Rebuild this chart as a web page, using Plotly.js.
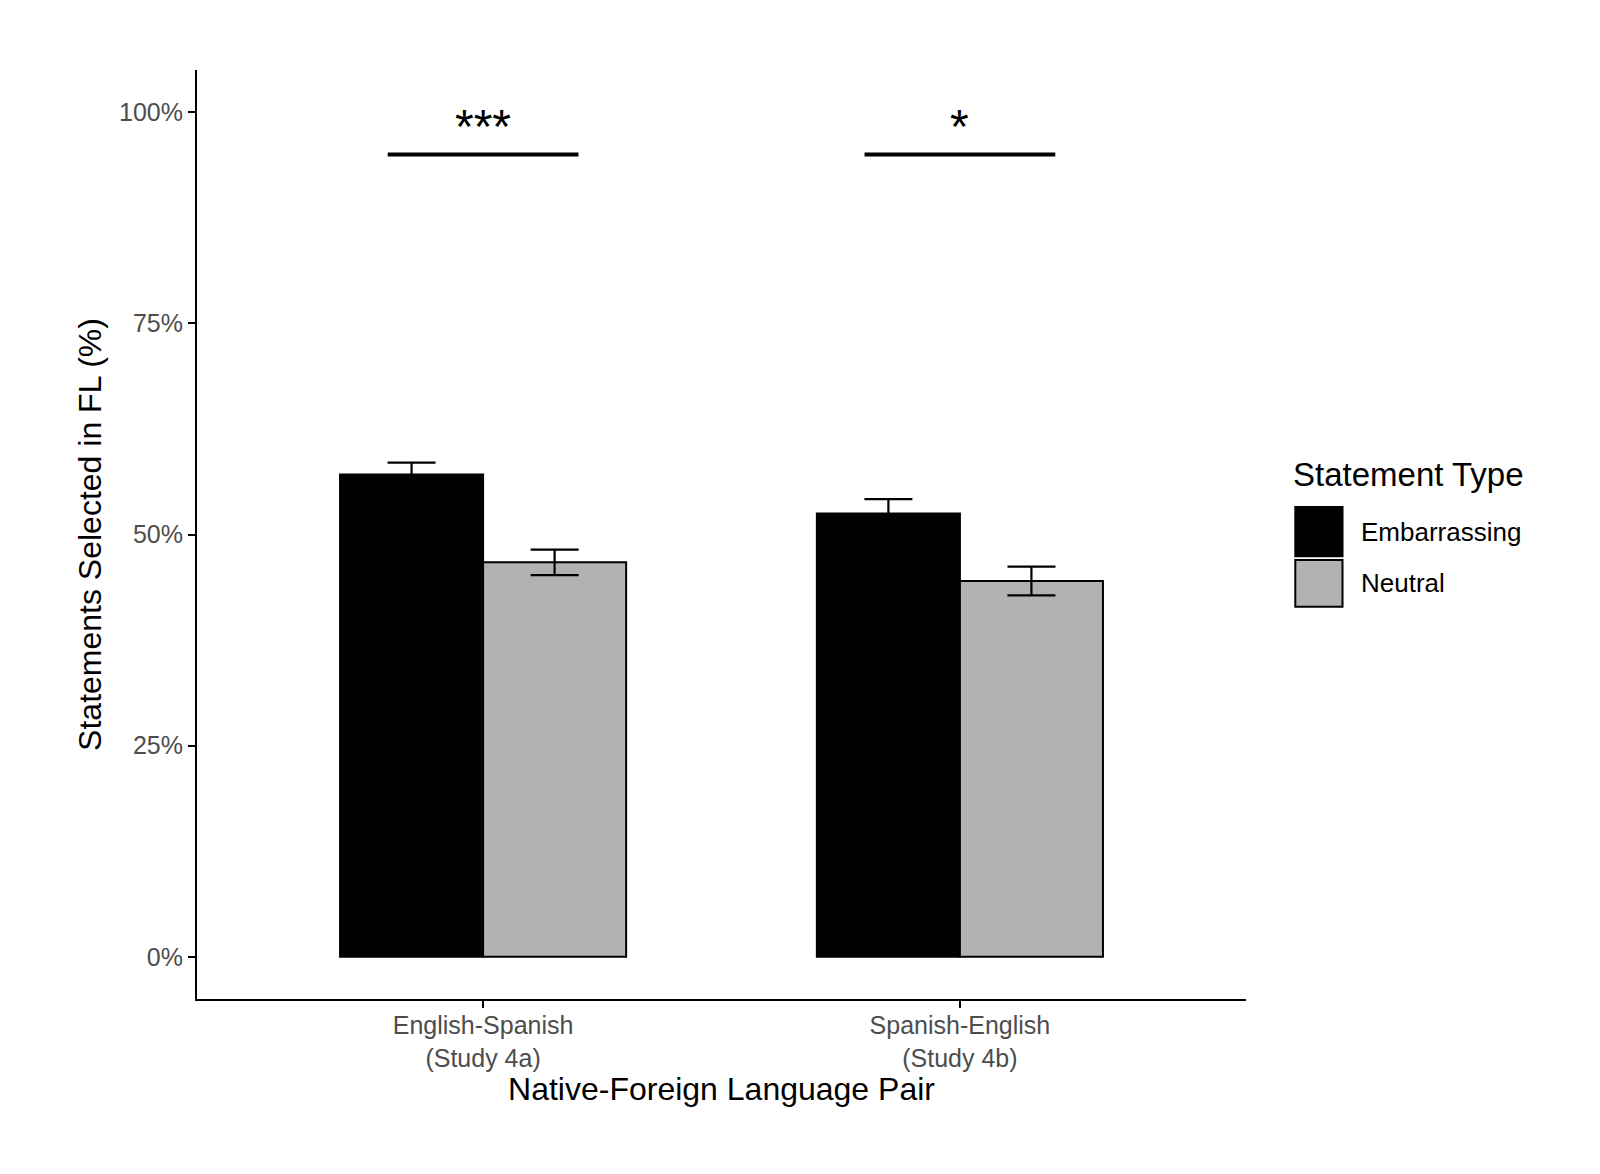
<!DOCTYPE html>
<html>
<head>
<meta charset="utf-8">
<script src="https://cdn.plot.ly/plotly-3.0.1.min.js"></script>
<style>
  body { margin: 0; background: #fff; }
  #graphDiv { width: 1600px; height: 1174px; }
</style>
</head>
<body>
<div id="graphDiv"></div>
<script>
// data
var pairs = ['English-Spanish', 'Spanish-English'];
var pairLabels = ['English-Spanish<br>(Study 4a)', 'Spanish-English<br>(Study 4b)'];
var embarrassing = [57.1, 52.5];
var embarrassingSE = [1.4, 1.7];
var neutral = [46.7, 44.5];
var neutralSE = [1.5, 1.7];
var sigStars = ['***', '*'];
var sigLevel = 95;
var yTicks = [0, 25, 50, 75, 100];
var yTickText = ['0%', '25%', '50%', '75%', '100%'];

function initGraph()
{
  var trace1 = {
    x: pairs,
    y: embarrassing,
    name: 'Embarrassing',
    type: 'bar',
    marker: {color: '#000000', line: {color: '#000000', width: 2}},
    error_y: {type: 'data', array: embarrassingSE, visible: true,
              color: '#000000', thickness: 2.2, width: 24}
  };

  var trace2 = {
    x: pairs,
    y: neutral,
    name: 'Neutral',
    type: 'bar',
    marker: {color: '#b2b2b2', line: {color: '#000000', width: 2}},
    error_y: {type: 'data', array: neutralSE, visible: true,
              color: '#000000', thickness: 2.2, width: 24}
  };

  var data = [trace1, trace2];

  // significance bars and stars over each pair
  var shapes = [];
  var annotations = [];
  for (var i = 0; i < pairs.length; i++) {
    shapes.push({
      type: 'line', xref: 'x', yref: 'y',
      x0: i - 0.2, x1: i + 0.2, y0: sigLevel, y1: sigLevel,
      line: {color: '#000000', width: 4}
    });
    annotations.push({
      xref: 'x', yref: 'y', x: i, y: sigLevel + 3.3,
      text: sigStars[i], showarrow: false,
      yanchor: 'middle',
      font: {family: 'Liberation Sans, Arial, sans-serif', size: 48, color: '#000000'}
    });
  }

  // legend drawn by hand so the keys get ggplot-sized squares
  var keyColors = ['#000000', '#b2b2b2'];
  var keyNames = ['Embarrassing', 'Neutral'];
  var keyTop = [0.5296, 0.4726];
  var keyBot = [0.4766, 0.4221];
  for (var k = 0; k < keyNames.length; k++) {
    shapes.push({
      type: 'rect', xref: 'paper', yref: 'paper',
      x0: 1.047, x1: 1.092, y0: keyBot[k], y1: keyTop[k],
      fillcolor: keyColors[k], line: {color: '#000000', width: 2}
    });
    annotations.push({
      xref: 'paper', yref: 'paper', x: 1.108, y: (keyTop[k] + keyBot[k]) / 2,
      xanchor: 'left', yanchor: 'middle', showarrow: false,
      text: keyNames[k],
      font: {family: 'Liberation Sans, Arial, sans-serif', size: 26, color: '#000000'}
    });
  }
  annotations.push({
    xref: 'paper', yref: 'paper', x: 1.043, y: 0.5642,
    xanchor: 'left', yanchor: 'middle', showarrow: false,
    text: 'Statement Type',
    font: {family: 'Liberation Sans, Arial, sans-serif', size: 33, color: '#000000'}
  });

  var layout = {
    width: 1600,
    height: 1174,
    margin: {l: 197, r: 354, t: 70, b: 175},
    paper_bgcolor: '#ffffff',
    plot_bgcolor: '#ffffff',
    font: {family: 'Liberation Sans, Arial, sans-serif', color: '#000000'},
    barmode: 'group',
    bargap: 0.4,
    bargroupgap: 0,
    showlegend: false,
    xaxis: {
      type: 'category',
      range: [-0.6, 1.6],
      tickvals: pairs,
      ticktext: pairLabels,
      showline: true, linecolor: '#000000', linewidth: 2,
      ticks: 'outside', ticklen: 7, tickwidth: 2, tickcolor: '#000000',
      ticklabelstandoff: -4,
      showgrid: false, zeroline: false,
      tickfont: {size: 25, color: '#4d4d4d'},
      title: {text: 'Native-Foreign Language Pair', font: {size: 32, color: '#000000'}, standoff: 2}
    },
    yaxis: {
      range: [-5, 105],
      tickvals: yTicks,
      ticktext: yTickText,
      showline: true, linecolor: '#000000', linewidth: 2,
      ticks: 'outside', ticklen: 7, tickwidth: 2, tickcolor: '#000000',
      showgrid: false, zeroline: false,
      tickfont: {size: 25, color: '#4d4d4d'},
      title: {text: 'Statements Selected in FL (%)', font: {size: 32, color: '#000000'}, standoff: 8}
    },
    shapes: shapes,
    annotations: annotations
  };

  Plotly.newPlot('graphDiv', data, layout, {staticPlot: true});
}
initGraph();
</script>
</body>
</html>
